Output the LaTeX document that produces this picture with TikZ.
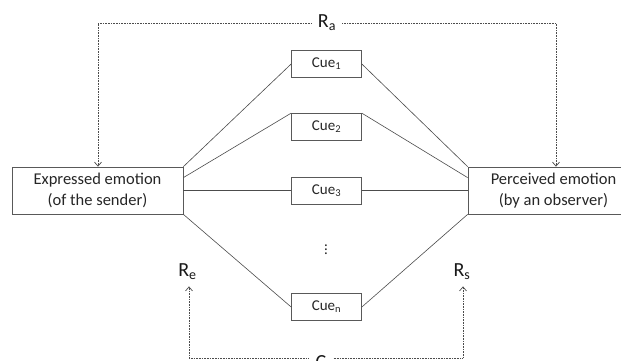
\documentclass[tikz,border=0pt]{standalone}
\usepackage{fontspec}
\setmainfont{Carlito}
\usetikzlibrary{arrows.meta,calc}
\begin{document}
\begin{tikzpicture}[x=1pt,y=-1pt,
  emobox/.style={draw=black!65,line width=0.7pt,inner sep=0pt,align=center,
    minimum width=171pt,minimum height=47pt,text=black!85,
    font=\fontsize{16.5}{21}\selectfont},
  cuebox/.style={draw=black!65,line width=0.7pt,inner sep=0pt,
    minimum width=70pt,minimum height=27pt,text=black!85,
    font=\fontsize{15}{18}\selectfont},
  link/.style={draw=black!70,line width=0.6pt},
  corr/.style={draw=black!70,line width=0.7pt,dash pattern=on 0.8pt off 0.8pt},
  corrarrow/.style={corr,-{Straight Barb[length=4pt,width=7pt]}},
  rlabel/.style={inner ysep=1pt,inner xsep=6pt,text=black!90,
    font=\fontsize{20}{24}\selectfont}]
\clip (0,0) rectangle (621,360);
\fill[white] (0,0) rectangle (621,360);

% emotion boxes
\node[emobox] (lb) at (97.5,190.5) {Expressed emotion\\(of the sender)};
\node[emobox] (rb) at (553.5,190.5) {Perceived emotion\\(by an observer)};

% cues
\node[cuebox] (c1) at (326.5,64) {Cue\textsubscript{1}};
\node[cuebox] (c2) at (326.5,127) {Cue\textsubscript{2}};
\node[cuebox] (c3) at (326.5,190.5) {Cue\textsubscript{3}};
\node[cuebox] (cn) at (326.5,307) {Cue\textsubscript{n}};
\node[text=black!85,font=\fontsize{15}{18}\selectfont] (vd) at (326,247) {\vdots};

% links from the sender to the cues
\draw[link] (lb.north east) -- (c1.west);
\draw[link] ($(lb.north east)!0.23!(lb.south east)$) -- (c2.north west);
\draw[link] (lb.east) -- (c3.west);
\draw[link] (lb.south east) -- (cn.west);
% links from the cues to the observer
\draw[link] (c1.east) -- (rb.north west);
\draw[link] (c2.north east) -- ($(rb.north west)!0.23!(rb.south west)$);
\draw[link] (c3.east) -- (rb.west);
\draw[link] (cn.east) -- (rb.south west);

% correlation labels
\node[rlabel,anchor=base] (ra) at (327,27) {R\textsubscript{a}};
\node[rlabel,anchor=base] (re) at (187.5,276) {R\textsubscript{e}};
\node[rlabel,anchor=base] (rs) at (462,276) {R\textsubscript{s}};
\node[rlabel,anchor=north,inner xsep=7pt] (cc) at (321,354) {C};

\coordinate (tl) at (98,23);
\coordinate (tr) at (556,23);
\coordinate (bl) at (189,358);
\coordinate (br) at (463,358);

% accuracy loop above
\draw[corrarrow] (ra.west |- tl) -- (tl) -- (tl |- lb.north);
\draw[corrarrow] (ra.east |- tr) -- (tr) -- (tr |- rb.north);
% validity loop below
\draw[corrarrow] (cc.west |- bl) -- (bl) -- ($(re.south -| bl)+(0,6)$);
\draw[corrarrow] (cc.east |- br) -- (br) -- ($(rs.south -| br)+(0,6)$);
\end{tikzpicture}
\end{document}
